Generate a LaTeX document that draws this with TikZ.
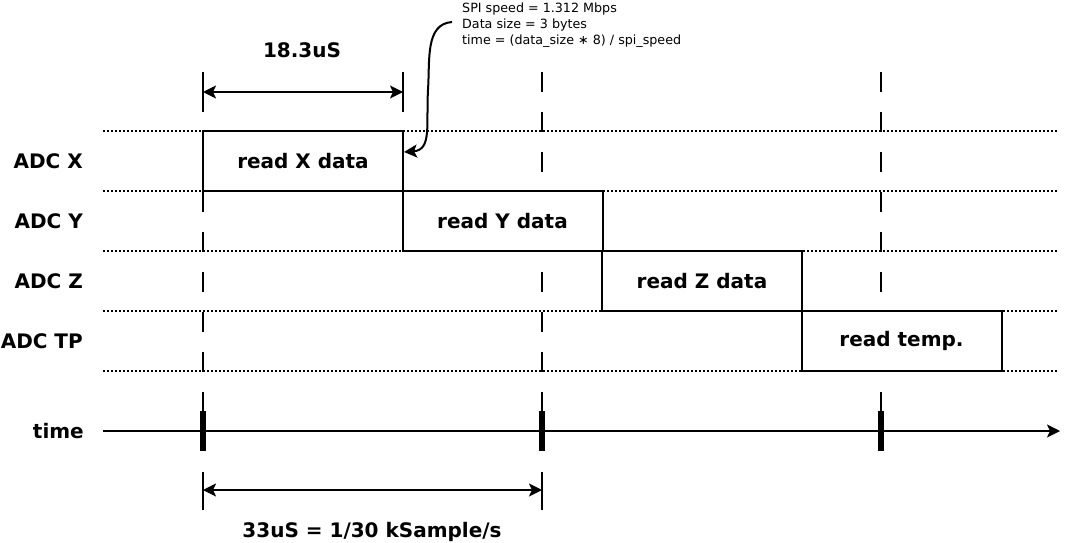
\documentclass[tikz,border=0pt]{standalone}
\usepackage{fontspec}
\setmainfont{DejaVu Sans}
\usetikzlibrary{arrows.meta}
\begin{document}
\begin{tikzpicture}[x=1pt,y=-1pt,
  lbl/.style={font=\fontsize{20}{22}\selectfont\bfseries, inner sep=0pt},
  note/.style={font=\fontsize{12.7}{16}\selectfont, align=left, inner sep=0pt},
  slot/.style={draw, fill=white, line width=2pt, minimum width=200pt,
               minimum height=60pt, inner sep=0pt, outer sep=0pt, lbl},
  lane/.style={line width=2pt, dash pattern=on 2pt off 2pt},
  guide/.style={line width=2pt, dash pattern=on 20pt off 20pt},
  thin/.style={line width=2pt},
  tick/.style={line width=6pt},
  tipped/.style={line width=2pt, -{Stealth[length=13pt,width=13pt,inset=3pt]}},
  both/.style={line width=2pt, {Stealth[length=13pt,width=13pt,inset=3pt]}-{Stealth[length=13pt,width=13pt,inset=3pt]}},
]
\useasboundingbox (0,0) rectangle (1065,543);

% lane separators
\foreach \y in {131,191,251,311,371}
  \draw[lane] (103,\y) -- (1058,\y);

% sample guides
\draw[guide] (203,192) -- (203,412);
\draw[guide] (542,72) -- (542,412);
\draw[guide] (881,72) -- (881,412);

% read slots
\node[slot] (rx) at (303,161) {read X data};
\node[slot] (ry) at (502.5,221) {read Y data};
\node[slot] (rz) at (702,281) {read Z data};
\node[slot] (rt) at (901.5,341) {read temp.};

% lane labels
\node[lbl, anchor=east] (lx) at (83,161) {ADC X};
\node[lbl, anchor=east] (ly) at (83,221) {ADC Y};
\node[lbl, anchor=east] (lz) at (83,281) {ADC Z};
\node[lbl, anchor=east] (lt) at (83,341) {ADC TP};
\node[lbl, anchor=east] (ltime) at (84,431) {time};

% time axis
\coordinate (t0) at (103,431);
\coordinate (t1) at (1060,431);
\draw[tipped] (t0) -- (t1);
\foreach \x in {203,542,881}
  \draw[tick] (\x,411) -- (\x,451);

% transfer duration
\coordinate (a0) at (203,92);
\coordinate (a1) at (403,92);
\draw[thin] (203,72) -- (203,112);
\draw[thin] (403,72) -- (403,112);
\draw[both] (a0) -- (a1);
\node[lbl, anchor=base] (dur) at (302,58) {18.3uS};

% sample period
\coordinate (b0) at (203,490);
\coordinate (b1) at (542,490);
\draw[thin] (203,472) -- (203,510);
\draw[thin] (542,472) -- (542,510);
\draw[both] (b0) -- (b1);
\node[lbl, anchor=base] (per) at (372,537) {33uS = 1/30 kSample/s};

% SPI note
\node[note, anchor=north west] (spi) at (462,2.5)
  {SPI speed = 1.312 Mbps\\Data size = 3 bytes\\time = (data\_size ∗ 8) / spi\_speed};
\coordinate (n0) at (452,22);
\coordinate (n1) at (404,152);
\draw[tipped] (n0) .. controls (425,24) and (430,60) .. (428,90)
  .. controls (426,125) and (432,150) .. (n1);
\end{tikzpicture}
\end{document}
